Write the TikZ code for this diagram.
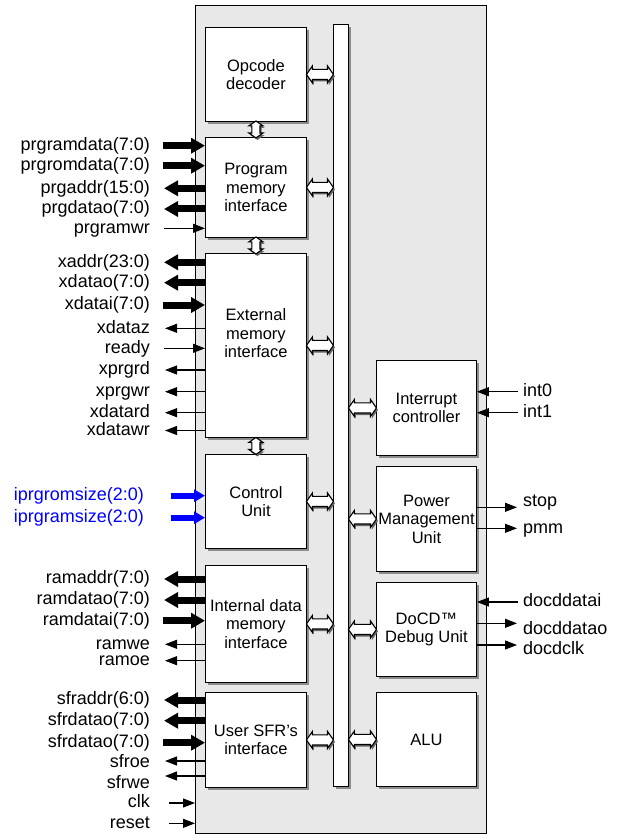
\documentclass[tikz,border=0pt]{standalone}
\usepackage{fontspec}
\setmainfont{Liberation Sans}
\usetikzlibrary{arrows.meta,shapes.arrows,shadows,calc}
\definecolor{coregrey}{RGB}{232,232,232}
\definecolor{cfgblue}{RGB}{0,0,255}
\newcommand{\blkfont}{\fontsize{16.5}{18.5}\selectfont}
\newcommand{\sigfont}{\fontsize{18}{20}\selectfont}
\tikzset{
  flatshadow/.style={drop shadow={opacity=1, fill=black!45, shadow xshift=2.5pt, shadow yshift=-2.5pt}},
  blk/.style={draw, line width=0.9pt, fill=white, anchor=north west, align=center, font=\blkfont, inner sep=0pt, flatshadow},
  bidir/.style={double arrow, draw, line width=1.1pt, fill=white, inner xsep=0pt, inner ysep=4.5pt, double arrow head extend=3.5pt,
    double arrow tip angle=110, drop shadow={opacity=1, fill=black!60, shadow xshift=1.5pt, shadow yshift=-2pt}},
  vbidir/.style={bidir, inner ysep=3.5pt, double arrow head extend=3pt, rotate=90,
    drop shadow={opacity=1, fill=black!60, shadow xshift=0pt, shadow yshift=0pt}},
  lsig/.style={font=\sigfont, inner sep=0pt, text height=13pt, text depth=3.5pt, anchor=east},
  rsig/.style={font=\sigfont, inner sep=0pt, text height=13pt, text depth=3.5pt, anchor=west},
  busarr/.style={line width=7pt, -{Triangle[length=14pt,width=15pt]}},
  wirearr/.style={line width=1.1pt, -{Triangle[length=12pt,width=9pt]}},
  cfgarr/.style={line width=6pt, cfgblue, -{Triangle[length=11pt,width=12pt]}},
}
\begin{document}
\begin{tikzpicture}[x=1pt, y=-1pt]
  \useasboundingbox (0,0) rectangle (622,834);
  \node[draw, line width=1pt, fill=coregrey, minimum width=291pt, minimum height=828pt, anchor=north west, inner sep=0pt] (core) at (195,5) {};
  \node[draw, line width=0.9pt, fill=white, minimum width=15pt, minimum height=762pt, anchor=north west, inner sep=0pt, flatshadow] (bus) at (333,24) {};

  \node[blk, minimum width=101pt, minimum height=94pt] (opdec) at (205,27) {Opcode\\decoder};
  \node[blk, minimum width=101pt, minimum height=100pt] (prog) at (205,137) {Program\\memory\\interface};
  \node[blk, minimum width=101pt, minimum height=184pt] (ext) at (205,253) {External\\memory\\interface\\[6pt]};
  \node[blk, minimum width=101pt, minimum height=94pt] (ctrl) at (205,454) {Control\\Unit};
  \node[blk, minimum width=101pt, minimum height=117pt] (idm) at (205,565) {Internal data\\memory\\interface};
  \node[blk, minimum width=101pt, minimum height=95pt] (sfr) at (205,692) {User SFR’s\\interface};

  \node[blk, minimum width=100pt, minimum height=95pt] (intc) at (376,360) {Interrupt\\controller};
  \node[blk, minimum width=100pt, minimum height=105pt] (pmu) at (376,466) {Power\\Management\\Unit};
  \node[blk, minimum width=100pt, minimum height=94pt] (docd) at (376,582) {DoCD™\\Debug Unit};
  \node[blk, minimum width=100pt, minimum height=94pt] (alu) at (376,692) {ALU};

  \node[bidir, minimum height=27pt] at ($(opdec.east)!.5!(bus.west |- opdec.east)$) {};
  \node[bidir, minimum height=27pt] at ($(prog.east)!.5!(bus.west |- prog.east)$) {};
  \node[bidir, minimum height=27pt] at ($(ext.east)!.5!(bus.west |- ext.east)$) {};
  \node[bidir, minimum height=27pt] at ($(ctrl.east)!.5!(bus.west |- ctrl.east)$) {};
  \node[bidir, minimum height=27pt] at ($(idm.east)!.5!(bus.west |- idm.east)$) {};
  \node[bidir, minimum height=27pt] at ($(sfr.east)!.5!(bus.west |- sfr.east)$) {};
  \node[bidir, minimum height=28pt] at ($(bus.east |- intc.west)!.5!(intc.west)$) {};
  \node[bidir, minimum height=28pt] at ($(bus.east |- pmu.west)!.5!(pmu.west)$) {};
  \node[bidir, minimum height=28pt] at ($(bus.east |- docd.west)!.5!(docd.west)$) {};
  \node[bidir, minimum height=28pt] at ($(bus.east |- alu.west)!.5!(alu.west)$) {};
  \node[vbidir, minimum height=17pt] at ($(opdec.south)!.5!(prog.north)$) {};
  \node[vbidir, minimum height=17pt] at ($(prog.south)!.5!(ext.north)$) {};
  \node[vbidir, minimum height=17pt] at ($(ext.south)!.5!(ctrl.north)$) {};

  \node[lsig] (prgramdata) at (150,145.7) {prgramdata(7:0)};
  \node[lsig] (prgromdata) at (150,165.7) {prgromdata(7:0)};
  \node[lsig] (prgaddr) at (150,188.3) {prgaddr(15:0)};
  \node[lsig] (prgdatao) at (150,209) {prgdatao(7:0)};
  \node[lsig] (prgramwr) at (150,228.3) {prgramwr};
  \draw[busarr] ([xshift=13pt]prgramdata.east) -- (prgramdata -| prog.west);
  \draw[busarr] ([xshift=13pt]prgromdata.east) -- (prgromdata -| prog.west);
  \draw[busarr] (prgaddr -| prog.west) -- ([xshift=14pt]prgaddr.east);
  \draw[busarr] (prgdatao -| prog.west) -- ([xshift=14pt]prgdatao.east);
  \draw[wirearr] ([xshift=14pt]prgramwr.east) -- (prgramwr -| prog.west);

  \node[lsig] (xaddr) at (150,262.3) {xaddr(23:0)};
  \node[lsig] (xdatao) at (150,282.7) {xdatao(7:0)};
  \node[lsig] (xdatai) at (150,305) {xdatai(7:0)};
  \node[lsig] (xdataz) at (150,328.3) {xdataz};
  \node[lsig] (ready) at (150,348.3) {ready};
  \node[lsig] (xprgrd) at (150,370) {xprgrd};
  \node[lsig] (xprgwr) at (150,391.7) {xprgwr};
  \node[lsig] (xdatard) at (150,412.7) {xdatard};
  \node[lsig] (xdatawr) at (150,430.5) {xdatawr};
  \draw[busarr] (xaddr -| ext.west) -- ([xshift=14pt]xaddr.east);
  \draw[busarr] (xdatao -| ext.west) -- ([xshift=14pt]xdatao.east);
  \draw[busarr] ([xshift=13pt]xdatai.east) -- (xdatai -| ext.west);
  \draw[wirearr] (xdataz -| ext.west) -- ([xshift=15pt]xdataz.east);
  \draw[wirearr] ([xshift=14pt]ready.east) -- (ready -| ext.west);
  \draw[wirearr] (xprgrd -| ext.west) -- ([xshift=15pt]xprgrd.east);
  \draw[wirearr] (xprgwr -| ext.west) -- ([xshift=15pt]xprgwr.east);
  \draw[wirearr] (xdatard -| ext.west) -- ([xshift=15pt]xdatard.east);
  \draw[wirearr] (xdatawr -| ext.west) -- ([xshift=15pt]xdatawr.east);

  \node[lsig, cfgblue] (romsize) at (144,495.7) {iprgromsize(2:0)};
  \node[lsig, cfgblue] (ramsize) at (144,517.7) {iprgramsize(2:0)};
  \draw[cfgarr] ([xshift=27pt]romsize.east) -- (romsize -| ctrl.west);
  \draw[cfgarr] ([xshift=27pt]ramsize.east) -- (ramsize -| ctrl.west);

  \node[lsig] (ramaddr) at (150,579) {ramaddr(7:0)};
  \node[lsig] (ramdatao) at (150,600) {ramdatao(7:0)};
  \node[lsig] (ramdatai) at (150,620.7) {ramdatai(7:0)};
  \node[lsig] (ramwe) at (150,644.3) {ramwe};
  \node[lsig] (ramoe) at (150,660.7) {ramoe};
  \draw[busarr] (ramaddr -| idm.west) -- ([xshift=14pt]ramaddr.east);
  \draw[busarr] (ramdatao -| idm.west) -- ([xshift=14pt]ramdatao.east);
  \draw[busarr] ([xshift=13pt]ramdatai.east) -- (ramdatai -| idm.west);
  \draw[wirearr] (ramwe -| idm.west) -- ([xshift=15pt]ramwe.east);
  \draw[wirearr] (ramoe -| idm.west) -- ([xshift=15pt]ramoe.east);

  \node[lsig] (sfraddr) at (150,700) {sfraddr(6:0)};
  \node[lsig] (sfrdatao) at (150,720.7) {sfrdatao(7:0)};
  \node[lsig] (sfrdatai) at (150,742.7) {sfrdatao(7:0)};
  \node[lsig] (sfroe) at (150,762.5) {sfroe};
  \node[lsig] (sfrwe) at (150,783.3) {sfrwe};
  \coordinate (sfroeend) at (165,761);
  \coordinate (sfrweend) at (165,776);
  \draw[busarr] (sfraddr -| sfr.west) -- ([xshift=14pt]sfraddr.east);
  \draw[busarr] (sfrdatao -| sfr.west) -- ([xshift=14pt]sfrdatao.east);
  \draw[busarr] ([xshift=13pt]sfrdatai.east) -- (sfrdatai -| sfr.west);
  \draw[wirearr] (sfr.west |- sfroeend) -- (sfroeend);
  \draw[wirearr] (sfr.west |- sfrweend) -- (sfrweend);

  \node[lsig] (clk) at (150,803) {clk};
  \node[lsig] (reset) at (150,823.3) {reset};
  \draw[wirearr] ([xshift=19pt]clk.east) -- (clk -| core.west);
  \draw[wirearr] ([xshift=19pt]reset.east) -- (reset -| core.west);

  \node[rsig] (int0) at (523,391.7) {int0};
  \node[rsig] (int1) at (523,412.7) {int1};
  \draw[wirearr] ([xshift=-5pt]int0.west) -- (int0 -| intc.east);
  \draw[wirearr] ([xshift=-5pt]int1.west) -- (int1 -| intc.east);

  \node[rsig] (stop) at (523,501.7) {stop};
  \node[rsig] (pmm) at (523,528.3) {pmm};
  \coordinate (stopend) at (517,507.3);
  \draw[wirearr] (pmu.east |- stopend) -- (stopend);
  \draw[wirearr] (pmm -| pmu.east) -- ([xshift=-6pt]pmm.west);

  \node[rsig] (docddatai) at (523,602) {docddatai};
  \node[rsig] (docddatao) at (523,629.3) {docddatao};
  \node[rsig] (docdclk) at (523,650) {docdclk};
  \coordinate (dataoend) at (517,623.3);
  \coordinate (clkend) at (517,645);
  \draw[wirearr] ([xshift=-5pt]docddatai.west) -- (docddatai -| docd.east);
  \draw[wirearr] (docd.east |- dataoend) -- (dataoend);
  \draw[wirearr] (docd.east |- clkend) -- (clkend);
\end{tikzpicture}
\end{document}
